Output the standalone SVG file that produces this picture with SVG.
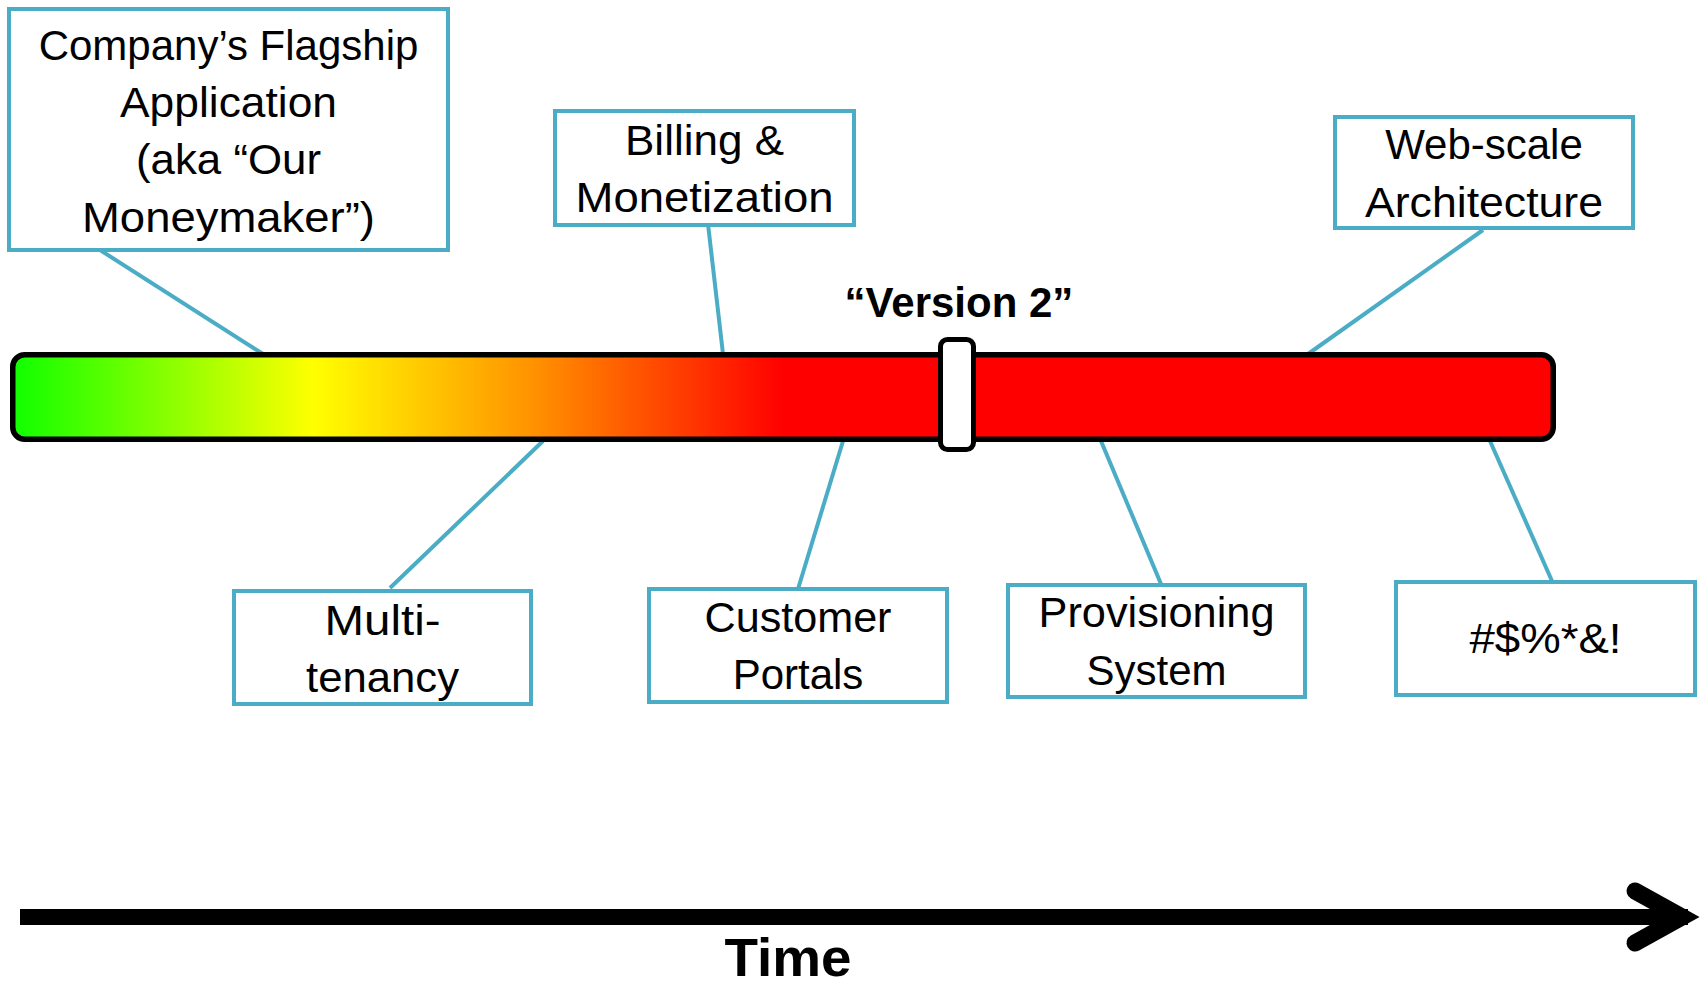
<svg xmlns="http://www.w3.org/2000/svg" width="1704" height="985" viewBox="0 0 1704 985">
<style>
.box{fill:#fff;stroke:#4bacc6;stroke-width:4}
.lbl{font-family:"Liberation Sans",Arial,sans-serif;font-size:42px;fill:#000;text-anchor:middle}
.conn{stroke:#4bacc6;stroke-width:4;fill:none}
.bold{font-family:"Liberation Sans",Arial,sans-serif;font-weight:bold;fill:#000;text-anchor:middle}
</style>
<defs>
<linearGradient id="heat" gradientUnits="userSpaceOnUse" x1="12" y1="0" x2="1556" y2="0">
<stop offset="0" stop-color="#10ff00"/>
<stop offset="0.1" stop-color="#88ff00"/>
<stop offset="0.195" stop-color="#ffff00"/>
<stop offset="0.34" stop-color="#ff9000"/>
<stop offset="0.50" stop-color="#ff0000"/>
<stop offset="1" stop-color="#ff0000"/>
</linearGradient>
</defs>
<rect width="1704" height="985" fill="#fff"/>
<g id="connectors">
<line class="conn" x1="100" y1="250" x2="263" y2="354"/>
<line class="conn" x1="708" y1="224" x2="723" y2="354"/>
<line class="conn" x1="1483" y1="230" x2="1308" y2="354"/>
<line class="conn" x1="543" y1="441" x2="390" y2="588"/>
<line class="conn" x1="843" y1="441" x2="798" y2="589"/>
<line class="conn" x1="1101" y1="441" x2="1161" y2="584"/>
<line class="conn" x1="1490" y1="441" x2="1552" y2="581"/>
</g>
<g id="timeline-bar">
<rect x="12.75" y="354.75" width="1540.5" height="84.5" rx="12" fill="url(#heat)" stroke="#000" stroke-width="5.5"/>
</g>
<g id="version2-marker">
<rect x="940.5" y="339.5" width="33" height="110" rx="7" fill="#fff" stroke="#000" stroke-width="5"/>
<text class="bold" x="959" y="317" font-size="42">“Version 2”</text>
</g>
<g id="node-flagship">
<rect class="box" x="9" y="9" width="439" height="241"/>
<text class="lbl" x="228.5" y="60">Company’s Flagship</text>
<text class="lbl" x="228.5" y="117" textLength="217" lengthAdjust="spacingAndGlyphs">Application</text>
<text class="lbl" x="228.5" y="174" textLength="185" lengthAdjust="spacingAndGlyphs">(aka “Our</text>
<text class="lbl" x="228.5" y="232" textLength="293" lengthAdjust="spacingAndGlyphs">Moneymaker”)</text>
</g>
<g id="node-billing">
<rect class="box" x="555" y="111" width="299" height="114"/>
<text class="lbl" x="704.5" y="155" textLength="159" lengthAdjust="spacingAndGlyphs">Billing &amp;</text>
<text class="lbl" x="704.5" y="212" textLength="258" lengthAdjust="spacingAndGlyphs">Monetization</text>
</g>
<g id="node-webscale">
<rect class="box" x="1335" y="117" width="298" height="111"/>
<text class="lbl" x="1484" y="159">Web-scale</text>
<text class="lbl" x="1484" y="217" textLength="238" lengthAdjust="spacingAndGlyphs">Architecture</text>
</g>
<g id="node-multitenancy">
<rect class="box" x="234" y="591" width="297" height="113"/>
<text class="lbl" x="382.5" y="635" textLength="116" lengthAdjust="spacingAndGlyphs">Multi-</text>
<text class="lbl" x="382.5" y="692" textLength="153" lengthAdjust="spacingAndGlyphs">tenancy</text>
</g>
<g id="node-portals">
<rect class="box" x="649" y="589" width="298" height="113"/>
<text class="lbl" x="798" y="632" textLength="187" lengthAdjust="spacingAndGlyphs">Customer</text>
<text class="lbl" x="798" y="689">Portals</text>
</g>
<g id="node-provisioning">
<rect class="box" x="1008" y="585" width="297" height="112"/>
<text class="lbl" x="1156.5" y="627" textLength="236" lengthAdjust="spacingAndGlyphs">Provisioning</text>
<text class="lbl" x="1156.5" y="685">System</text>
</g>
<g id="node-expletive">
<rect class="box" x="1396" y="582" width="299" height="113"/>
<text class="lbl" x="1545.5" y="653" textLength="152" lengthAdjust="spacingAndGlyphs">#$%*&amp;!</text>
</g>
<g id="time-axis">
<line x1="20" y1="917" x2="1688" y2="917" stroke="#000" stroke-width="16"/>
<polyline points="1635,891 1682,917 1635,943" fill="none" stroke="#000" stroke-width="17" stroke-linecap="round" stroke-linejoin="miter" stroke-miterlimit="6"/>
<text class="bold" x="788" y="976" font-size="54" textLength="127" lengthAdjust="spacingAndGlyphs">Time</text>
</g>
</svg>
